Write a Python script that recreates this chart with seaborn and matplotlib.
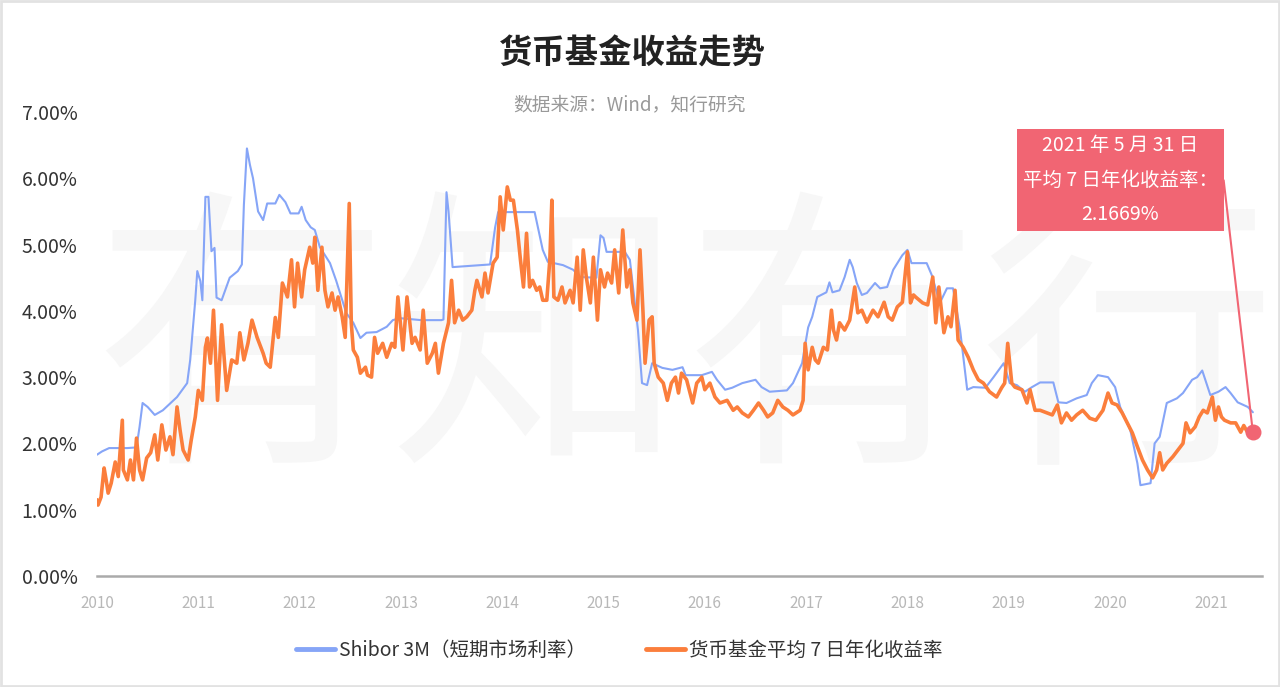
import numpy as np
import pandas as pd
import matplotlib
matplotlib.use("Agg")
import matplotlib.pyplot as plt
from matplotlib.patches import Rectangle
from matplotlib.lines import Line2D
import seaborn as sns

# Shibor 3M（短期市场利率），时间为小数年份
shibor_t = [2010.00, 2010.05, 2010.12, 2010.30, 2010.39, 2010.42, 2010.45, 2010.50, 2010.57, 2010.65,
            2010.79, 2010.89, 2010.92, 2010.97, 2010.99, 2011.02, 2011.04, 2011.07, 2011.10, 2011.13,
            2011.16, 2011.18, 2011.23, 2011.31, 2011.39, 2011.43, 2011.45, 2011.48, 2011.51, 2011.54,
            2011.59, 2011.64, 2011.68, 2011.76, 2011.80, 2011.86, 2011.91, 2011.99, 2012.02, 2012.06,
            2012.11, 2012.15, 2012.20, 2012.30, 2012.36, 2012.46, 2012.53, 2012.60, 2012.66, 2012.76,
            2012.86, 2012.92, 2012.99, 2013.20, 2013.40, 2013.42, 2013.45, 2013.47, 2013.51, 2013.70,
            2013.88, 2013.93, 2013.96, 2014.32, 2014.40, 2014.45, 2014.60, 2014.70, 2014.77, 2014.93,
            2014.97, 2015.00, 2015.03, 2015.21, 2015.26, 2015.34, 2015.38, 2015.43, 2015.48, 2015.58,
            2015.68, 2015.78, 2015.81, 2015.97, 2016.07, 2016.12, 2016.20, 2016.27, 2016.37, 2016.50,
            2016.56, 2016.64, 2016.81, 2016.87, 2016.96, 2017.02, 2017.06, 2017.11, 2017.20, 2017.23,
            2017.26, 2017.33, 2017.38, 2017.43, 2017.46, 2017.50, 2017.55, 2017.60, 2017.68, 2017.73,
            2017.80, 2017.86, 2017.95, 2018.00, 2018.04, 2018.19, 2018.24, 2018.32, 2018.39, 2018.45,
            2018.52, 2018.59, 2018.65, 2018.77, 2018.85, 2018.95, 2019.01, 2019.08, 2019.16, 2019.23,
            2019.31, 2019.44, 2019.49, 2019.57, 2019.67, 2019.77, 2019.82, 2019.88, 2019.98, 2020.05,
            2020.10, 2020.20, 2020.27, 2020.30, 2020.40, 2020.44, 2020.49, 2020.56, 2020.66, 2020.72,
            2020.81, 2020.86, 2020.91, 2020.94, 2020.99, 2021.07, 2021.14, 2021.19, 2021.26, 2021.36,
            2021.41]
shibor_v = [1.83, 1.88, 1.93, 1.93, 1.94, 2.25, 2.61, 2.55, 2.43, 2.50,
            2.70, 2.91, 3.26, 4.16, 4.60, 4.45, 4.16, 5.72, 5.72, 4.90,
            4.95, 4.20, 4.16, 4.50, 4.60, 4.70, 5.60, 6.45, 6.20, 6.00,
            5.50, 5.37, 5.62, 5.62, 5.75, 5.64, 5.47, 5.47, 5.57, 5.37,
            5.26, 5.22, 4.96, 4.72, 4.46, 3.97, 3.82, 3.59, 3.67, 3.68,
            3.76, 3.86, 3.89, 3.86, 3.86, 3.87, 5.79, 5.50, 4.66, 4.68,
            4.70, 5.26, 5.49, 5.49, 4.92, 4.74, 4.69, 4.62, 4.51, 4.50,
            5.14, 5.10, 4.89, 4.89, 4.77, 3.71, 2.91, 2.88, 3.21, 3.14,
            3.11, 3.15, 3.03, 3.03, 3.08, 2.96, 2.81, 2.84, 2.91, 2.96,
            2.85, 2.78, 2.80, 2.91, 3.21, 3.75, 3.91, 4.21, 4.28, 4.43,
            4.28, 4.31, 4.51, 4.77, 4.66, 4.42, 4.24, 4.27, 4.42, 4.34,
            4.36, 4.62, 4.84, 4.92, 4.72, 4.72, 4.54, 4.12, 4.34, 4.34,
            3.71, 2.81, 2.85, 2.84, 3.00, 3.21, 2.91, 2.88, 2.78, 2.85,
            2.92, 2.92, 2.62, 2.61, 2.68, 2.73, 2.91, 3.03, 3.00, 2.85,
            2.55, 2.20, 1.70, 1.37, 1.40, 2.00, 2.10, 2.61, 2.68, 2.76,
            2.96, 3.00, 3.10, 2.96, 2.73, 2.78, 2.85, 2.76, 2.62, 2.55,
            2.47]

# 货币基金平均 7 日年化收益率
fund_t = [2010.00, 2010.01, 2010.04, 2010.07, 2010.09, 2010.11, 2010.14, 2010.18, 2010.21, 2010.25,
          2010.26, 2010.30, 2010.33, 2010.36, 2010.39, 2010.42, 2010.45, 2010.49, 2010.53, 2010.57,
          2010.60, 2010.64, 2010.68, 2010.72, 2010.75, 2010.79, 2010.82, 2010.85, 2010.90, 2010.93,
          2010.97, 2011.00, 2011.04, 2011.07, 2011.09, 2011.12, 2011.15, 2011.19, 2011.23, 2011.28,
          2011.33, 2011.38, 2011.41, 2011.45, 2011.49, 2011.53, 2011.58, 2011.64, 2011.67, 2011.71,
          2011.76, 2011.79, 2011.83, 2011.88, 2011.92, 2011.95, 2011.98, 2012.02, 2012.05, 2012.10,
          2012.13, 2012.15, 2012.18, 2012.22, 2012.25, 2012.28, 2012.32, 2012.35, 2012.38, 2012.42,
          2012.45, 2012.47, 2012.49, 2012.51, 2012.53, 2012.57, 2012.60, 2012.65, 2012.67, 2012.71,
          2012.74, 2012.77, 2012.82, 2012.86, 2012.91, 2012.94, 2012.97, 2013.02, 2013.06, 2013.11,
          2013.14, 2013.19, 2013.22, 2013.26, 2013.31, 2013.34, 2013.37, 2013.42, 2013.47, 2013.50,
          2013.53, 2013.57, 2013.61, 2013.65, 2013.70, 2013.73, 2013.75, 2013.80, 2013.83, 2013.86,
          2013.91, 2013.95, 2013.98, 2014.01, 2014.05, 2014.08, 2014.11, 2014.15, 2014.18, 2014.21,
          2014.24, 2014.27, 2014.30, 2014.34, 2014.37, 2014.40, 2014.44, 2014.47, 2014.49, 2014.51,
          2014.55, 2014.59, 2014.62, 2014.67, 2014.70, 2014.74, 2014.77, 2014.80, 2014.83, 2014.87,
          2014.90, 2014.94, 2014.97, 2015.01, 2015.04, 2015.08, 2015.11, 2015.15, 2015.19, 2015.23,
          2015.26, 2015.29, 2015.33, 2015.36, 2015.39, 2015.41, 2015.45, 2015.48, 2015.50, 2015.54,
          2015.59, 2015.63, 2015.67, 2015.71, 2015.74, 2015.77, 2015.82, 2015.88, 2015.92, 2015.97,
          2016.00, 2016.05, 2016.10, 2016.15, 2016.22, 2016.28, 2016.32, 2016.37, 2016.43, 2016.48,
          2016.53, 2016.58, 2016.62, 2016.67, 2016.72, 2016.77, 2016.82, 2016.87, 2016.94, 2016.97,
          2016.99, 2017.02, 2017.06, 2017.09, 2017.12, 2017.17, 2017.21, 2017.25, 2017.27, 2017.30,
          2017.33, 2017.38, 2017.43, 2017.48, 2017.51, 2017.55, 2017.60, 2017.66, 2017.71, 2017.77,
          2017.81, 2017.85, 2017.90, 2017.95, 2018.00, 2018.03, 2018.06, 2018.08, 2018.15, 2018.20,
          2018.25, 2018.28, 2018.31, 2018.36, 2018.40, 2018.43, 2018.47, 2018.50, 2018.55, 2018.60,
          2018.65, 2018.70, 2018.75, 2018.81, 2018.88, 2018.93, 2018.96, 2018.99, 2019.03, 2019.06,
          2019.13, 2019.18, 2019.21, 2019.26, 2019.31, 2019.38, 2019.43, 2019.48, 2019.52, 2019.57,
          2019.62, 2019.67, 2019.73, 2019.80, 2019.86, 2019.93, 2019.98, 2020.02, 2020.07, 2020.12,
          2020.17, 2020.22, 2020.27, 2020.32, 2020.37, 2020.42, 2020.46, 2020.49, 2020.52, 2020.56,
          2020.62, 2020.67, 2020.72, 2020.75, 2020.79, 2020.84, 2020.88, 2020.92, 2020.96, 2021.01,
          2021.04, 2021.07, 2021.10, 2021.13, 2021.19, 2021.24, 2021.29, 2021.32, 2021.36, 2021.41]
fund_v = [1.15, 1.07, 1.19, 1.63, 1.45, 1.25, 1.40, 1.72, 1.50, 2.35,
          1.60, 1.45, 1.75, 1.45, 2.08, 1.60, 1.45, 1.78, 1.86, 2.13,
          1.75, 2.28, 1.90, 2.10, 1.83, 2.55, 2.20, 1.90, 1.75, 2.05,
          2.40, 2.80, 2.65, 3.45, 3.59, 3.21, 4.01, 2.65, 3.79, 2.80,
          3.26, 3.21, 3.67, 3.26, 3.51, 3.86, 3.60, 3.36, 3.21, 3.15,
          3.90, 3.60, 4.42, 4.21, 4.77, 4.06, 4.72, 4.21, 4.62, 4.96,
          4.72, 5.11, 4.31, 4.96, 4.31, 4.06, 4.27, 4.01, 4.21, 3.91,
          3.60, 4.62, 5.62, 3.82, 3.41, 3.30, 3.06, 3.15, 3.03, 3.00,
          3.60, 3.36, 3.51, 3.30, 3.51, 3.45, 4.21, 3.41, 4.21, 3.51,
          3.60, 3.41, 4.01, 3.21, 3.36, 3.51, 3.06, 3.51, 3.82, 4.46,
          3.82, 4.01, 3.86, 3.91, 4.01, 4.31, 4.46, 4.21, 4.57, 4.27,
          4.72, 4.81, 5.72, 5.22, 5.87, 5.67, 5.67, 5.22, 4.77, 4.36,
          5.17, 4.36, 4.46, 4.31, 4.36, 4.16, 4.16, 4.77, 5.67, 4.21,
          4.16, 4.36, 4.12, 4.31, 4.12, 4.81, 4.01, 4.92, 4.51, 4.12,
          4.81, 3.86, 4.62, 4.36, 4.57, 4.42, 4.92, 4.27, 5.22, 4.36,
          4.62, 4.12, 3.86, 4.92, 3.97, 3.21, 3.86, 3.91, 3.21, 3.00,
          2.91, 2.65, 2.91, 3.00, 2.76, 3.06, 2.96, 2.61, 2.91, 3.00,
          2.81, 2.91, 2.70, 2.61, 2.65, 2.50, 2.55, 2.46, 2.40, 2.50,
          2.61, 2.50, 2.40, 2.46, 2.65, 2.55, 2.50, 2.43, 2.50, 2.65,
          3.51, 3.11, 3.45, 3.26, 3.21, 3.45, 3.41, 4.01, 3.71, 3.56,
          3.82, 3.71, 3.86, 4.36, 3.97, 4.01, 3.83, 4.01, 3.91, 4.13,
          3.91, 3.86, 4.06, 4.13, 4.89, 4.12, 4.24, 4.21, 4.12, 4.09,
          4.51, 3.82, 4.36, 3.67, 3.91, 3.76, 4.31, 3.56, 3.45, 3.30,
          3.11, 2.96, 2.91, 2.78, 2.70, 2.84, 2.91, 3.51, 2.91, 2.85,
          2.81, 2.61, 2.81, 2.50, 2.50, 2.46, 2.43, 2.58, 2.31, 2.46,
          2.35, 2.43, 2.50, 2.38, 2.35, 2.50, 2.76, 2.61, 2.58, 2.46,
          2.31, 2.16, 1.95, 1.75, 1.60, 1.48, 1.60, 1.86, 1.60, 1.70,
          1.80, 1.90, 2.00, 2.31, 2.16, 2.25, 2.40, 2.50, 2.46, 2.70,
          2.35, 2.55, 2.40, 2.35, 2.31, 2.31, 2.17, 2.27, 2.16, 2.1669]

years = list(range(2010, 2022))
y_ticks = [0, 1, 2, 3, 4, 5, 6, 7]

shibor_label = "Shibor 3M（短期市场利率）"
fund_label = "货币基金平均 7 日年化收益率"
note_text = "2021 年 5 月 31 日\n平均 7 日年化收益率：\n2.1669%"

BLUE = "#86a5f7"
ORANGE = "#fb7e3c"
PINK = "#f16573"

sns.set_theme(style="white")
plt.rcParams["font.family"] = ["Noto Sans CJK SC", "DejaVu Sans"]

fig = plt.figure(figsize=(12.8, 6.87), dpi=100)
ax = fig.add_axes([97 / 1280, 1 - 576 / 687, (1262 - 97) / 1280, (576 - 112) / 687])

# 水印，放在坐标区内最底层
ax.text(0.535, 0.483, "有知有行", transform=fig.transFigure, fontsize=213, color="#f7f7f7",
        ha="center", va="center", zorder=0)

df_s = pd.DataFrame({"t": shibor_t, "v": shibor_v})
df_f = pd.DataFrame({"t": fund_t, "v": fund_v})
sns.lineplot(data=df_s, x="t", y="v", ax=ax, color=BLUE, linewidth=1.5, label=shibor_label, zorder=2)
sns.lineplot(data=df_f, x="t", y="v", ax=ax, color=ORANGE, linewidth=2.6, label=fund_label, zorder=3)

ax.set_xlim(2010, 2021.5)
ax.set_ylim(0, 7)
ax.set_xlabel("")
ax.set_ylabel("")
ax.set_xticks(years)
ax.set_xticklabels([str(y) for y in years], color="#b8b8b8", fontsize=11)
ax.set_yticks(y_ticks)
ax.set_yticklabels([f"{v:.2f}%" for v in y_ticks], color="#333333", fontsize=14)
ax.tick_params(axis="x", length=6, width=1.2, color="#aaaaaa", direction="out", pad=8)
ax.tick_params(axis="y", length=0, pad=14)
for s in ["top", "right", "left"]:
    ax.spines[s].set_visible(False)
ax.spines["bottom"].set_color("#aaaaaa")
ax.spines["bottom"].set_linewidth(1.8)
ax.grid(False)

# 最后一个点的标注
ax.scatter([fund_t[-1]], [fund_v[-1]], s=110, color=PINK, zorder=5, clip_on=False)
ax.annotate(note_text, xy=(fund_t[-1], fund_v[-1]), xytext=(2020.1, 5.97),
            textcoords="data", ha="center", va="center", color="white", fontsize=14,
            linespacing=1.85,
            bbox=dict(boxstyle="square,pad=0.3", fc=PINK, ec="none"),
            arrowprops=dict(arrowstyle="-", color=PINK, lw=1.5, shrinkA=0, shrinkB=4,
                            relpos=(1, 0.5),
                            connectionstyle="arc,angleA=0,angleB=95,armA=6,armB=0,rad=0"),
            zorder=6)

# 标题
fig.text(0.494, 1 - 54 / 687, "货币基金收益走势", fontsize=24, fontweight="bold",
         color="#222222", ha="center", va="center")
fig.text(0.492, 1 - 105 / 687, "数据来源：Wind，知行研究", fontsize=13.5,
         color="#999999", ha="center", va="center")

# 图例
handles = [Line2D([0], [0], color=BLUE, lw=3.5), Line2D([0], [0], color=ORANGE, lw=3.5)]
ax.legend_.remove()
fig.legend(handles, [shibor_label, fund_label], loc="center", bbox_to_anchor=(619 / 1280, 1 - 650 / 687),
           ncol=2, frameon=False, fontsize=14, handlelength=2.0, handletextpad=0.2,
           columnspacing=3.1, labelcolor="#333333")

# 外框
fig.patches.append(Rectangle((0.001, 0.001), 0.998, 0.998, transform=fig.transFigure,
                             fill=False, ec="#e2e2e2", lw=2))

fig.savefig("out.png", dpi=100)
